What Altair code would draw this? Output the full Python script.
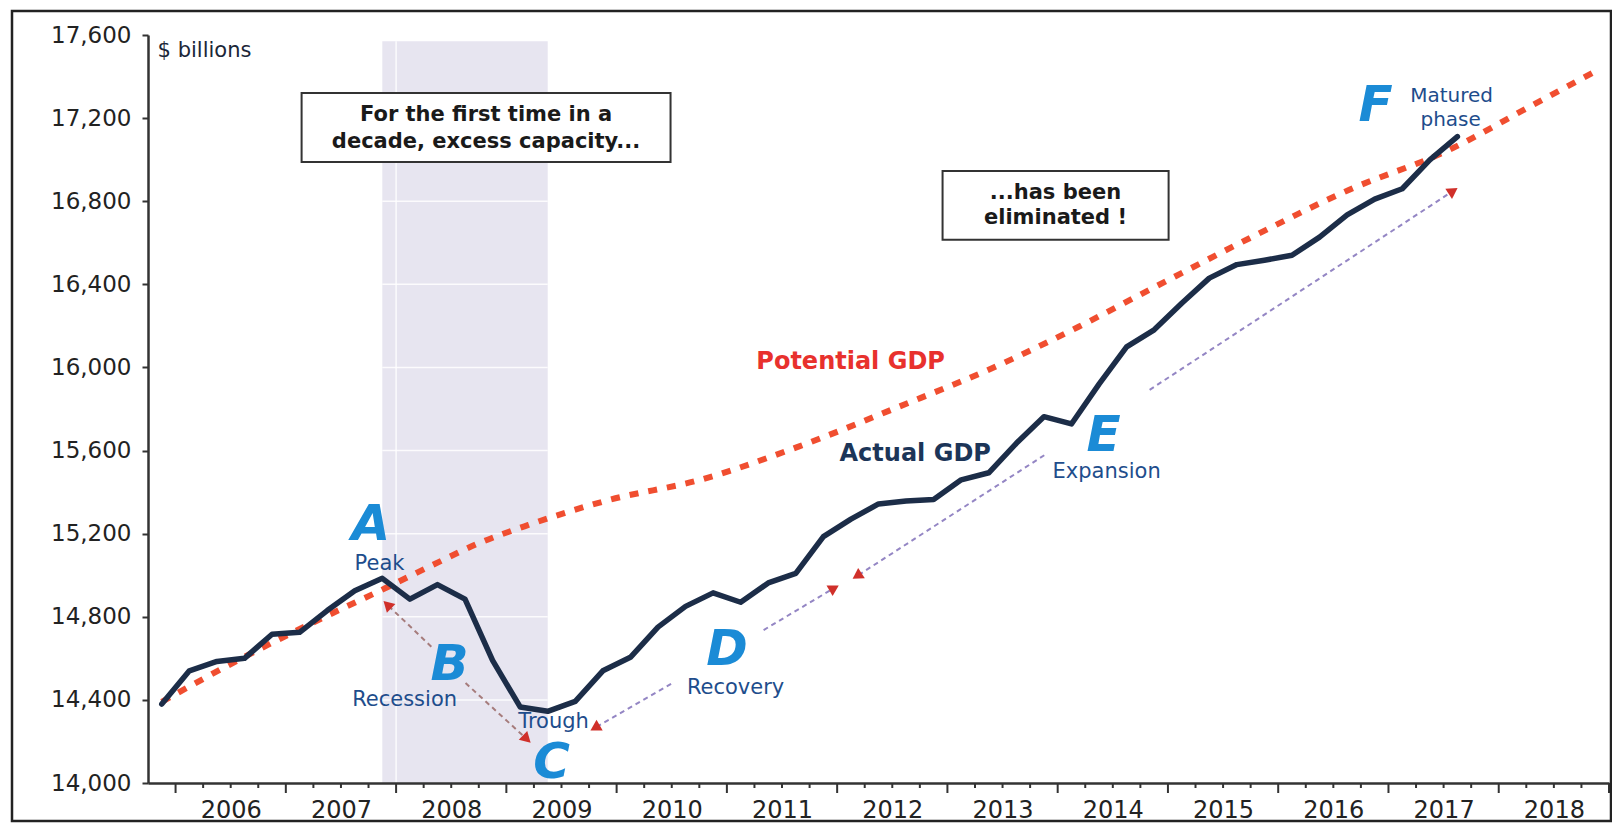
import altair as alt
import pandas as pd

FONT = "DejaVu Sans"

# ---------------- data ----------------
# Real GDP, $ billions, quarterly 2005Q4 ... 2017Q3
quarter_labels = [f"{y}Q{q}" for y in range(2005, 2018) for q in range(1, 5)][3:51]
actual_gdp = [14380, 14540, 14585, 14600, 14716, 14725, 14830, 14925, 14985, 14885,
              14955, 14885, 14590, 14366, 14345, 14393, 14540, 14605, 14750, 14850,
              14915, 14870, 14963, 15009, 15186, 15270, 15343, 15357, 15365, 15459,
              15493, 15635, 15763, 15728, 15920, 16099, 16181, 16309, 16430, 16495,
              16516, 16540, 16627, 16734, 16810, 16860, 16999, 17111]

# Potential GDP (decimal year, $ billions)
pot_year = [2005.875, 2006.57, 2007.39, 2007.90, 2008.30, 2008.75, 2009.20, 2009.93,
            2010.75, 2011.65, 2012.56, 2013.47, 2014.19, 2014.83, 2015.74, 2016.64,
            2017.55, 2018.28, 2018.90]
pot_gdp = [14391, 14592, 14809, 14937, 15041, 15154, 15242, 15362,
           15458, 15619, 15811, 16012, 16196, 16373, 16622, 16854,
           17047, 17255, 17432]

recession = [2007.875, 2009.375]
band_top = 17570

years = list(range(2006, 2020))
y_ticks = list(range(14000, 17601, 400))

# phase letters
letters = ["A", "B", "C", "D", "E", "F"]
letter_t = [2007.77, 2008.485, 2009.41, 2011.0, 2014.417, 2016.883]
letter_v = [15240, 14568, 14096, 14640, 15670, 17259]

# phase captions
captions = ["Peak", "Recession", "Trough", "Recovery", "Expansion"]
caption_t = [2007.85, 2008.077, 2009.428, 2011.079, 2014.444]
caption_v = [15052, 14400, 14294, 14457, 15497]
matured = ["Matured", "phase"]
matured_t = [2017.573, 2017.564]
matured_v = [17308, 17191]

series_labels = ["Potential GDP", "Actual GDP"]
series_label_t = [2012.122, 2012.708]
series_label_v = [16024, 15584]
series_label_col = ["#E8312D", "#1C3558"]

# arrows: dashed segments (t0, v0) -> (t1, v1)
seg_t0 = [2007.932, 2008.630, 2009.818, 2011.333, 2012.194, 2014.834]
seg_v0 = [14852, 14481, 14270, 14736, 15001, 15892]
seg_t1 = [2008.322, 2009.174, 2010.508, 2011.959, 2013.909, 2017.573]
seg_v1 = [14655, 14217, 14481, 14934, 15588, 16845]
seg_col = ["#A67C7C", "#A67C7C", "#9486C4", "#9486C4", "#9486C4", "#9486C4"]

head_t = [2007.932, 2009.174, 2009.818, 2011.959, 2012.194, 2017.573]
head_v = [14852, 14217, 14270, 14934, 15001, 16845]
head_angle = [314, 134, 240, 60, 237, 57]

# text boxes
box_t0 = [2007.143, 2012.956]
box_t1 = [2010.489, 2015.006]
box_v0 = [16989, 16614]
box_v1 = [17321, 16946]
box_lines = ["For the first time in a", "decade, excess capacity...",
             "...has been", "eliminated !"]
box_line_t = [2008.816, 2008.816, 2013.98, 2013.98]
box_line_v = [17215, 17085, 16840, 16720]

# ---------------- frames ----------------
act_df = pd.DataFrame({
    "q": quarter_labels,
    "t": [int(s[:4]) + (int(s[-1]) - 1) / 4 + 0.125 for s in quarter_labels],
    "v": actual_gdp,
})
pot_df = pd.DataFrame({"t": pot_year, "v": pot_gdp})
band_df = pd.DataFrame({"t0": [recession[0]], "t1": [recession[1]],
                        "v0": [y_ticks[0]], "v1": [band_top]})
hgrid_df = pd.DataFrame({"v": y_ticks[1:-1], "t0": recession[0], "t1": recession[1]})
vgrid_df = pd.DataFrame({"t": [2008], "v0": [y_ticks[0]], "v1": [band_top]})
major_df = pd.DataFrame({"t": years})
minor_df = pd.DataFrame({"t": [y + f for y in years[:-1] for f in (0.25, 0.5, 0.75)]})
letters_df = pd.DataFrame({"t": letter_t, "v": letter_v, "label": letters})
cap_df = pd.DataFrame({"t": caption_t, "v": caption_v, "label": captions})
mat_df = pd.DataFrame({"t": matured_t, "v": matured_v, "label": matured})
ser_df = pd.DataFrame({"t": series_label_t, "v": series_label_v,
                       "label": series_labels, "col": series_label_col})
seg_df = pd.DataFrame({"t0": seg_t0, "v0": seg_v0, "t1": seg_t1, "v1": seg_v1, "col": seg_col})
head_df = pd.DataFrame({"t": head_t, "v": head_v, "ang": head_angle})
box_df = pd.DataFrame({"t0": box_t0, "t1": box_t1, "v0": box_v0, "v1": box_v1})
boxtxt_df = pd.DataFrame({"t": box_line_t, "v": box_line_v, "label": box_lines})
units_df = pd.DataFrame({"t": [2005.837], "v": [17523], "label": ["$ billions"]})
frame_df = pd.DataFrame({"k": [0]})

# ---------------- chart ----------------
W, H = 1461, 748
xs = alt.Scale(domain=[2005.75, 2019.0], nice=False, zero=False)
ys = alt.Scale(domain=[14000, 17600], nice=False, zero=False)

x_axis = alt.Axis(values=[y + 0.5 for y in years[:-1]], labelExpr="floor(datum.value)",
                  ticks=False, tickSize=0, labelFont=FONT, labelFontSize=24,
                  labelColor="#222222", labelPadding=15, domainColor="#333333",
                  domainWidth=2.5, grid=False, title=None, labelOverlap=False,
                  labelFlush=False, labelBound=False, zindex=1)
y_axis = alt.Axis(values=y_ticks, format=",d", tickSize=6, tickWidth=2,
                  tickColor="#333333", labelFont=FONT, labelFontSize=23,
                  labelColor="#222222", labelPadding=11, domainColor="#333333",
                  domainWidth=2.5, grid=False, title=None, labelOverlap=False, zindex=1)

band = alt.Chart(band_df).mark_rect(color="#E7E5F0").encode(
    x=alt.X("t0:Q", scale=xs, axis=x_axis), x2="t1:Q",
    y=alt.Y("v0:Q", scale=ys, axis=y_axis), y2="v1:Q")

hgrid = alt.Chart(hgrid_df).mark_rule(color="white", strokeWidth=1.5, opacity=0.85).encode(
    x="t0:Q", x2="t1:Q", y="v:Q")
vgrid = alt.Chart(vgrid_df).mark_rule(color="white", strokeWidth=1.5, opacity=0.85).encode(
    x="t:Q", y="v0:Q", y2="v1:Q")

pot = alt.Chart(pot_df).mark_line(color="#F04E30", strokeWidth=6, strokeDash=[9, 10],
                                   interpolate="monotone").encode(x="t:Q", y="v:Q")
act = alt.Chart(act_df).mark_line(color="#1C2D48", strokeWidth=5.5, strokeJoin="round",
                                   strokeCap="round").encode(
    x="t:Q", y="v:Q", order="t:Q")

segs = alt.Chart(seg_df).mark_rule(strokeWidth=2, strokeDash=[5, 4]).encode(
    x="t0:Q", x2="t1:Q", y="v0:Q", y2="v1:Q", color=alt.Color("col:N", scale=None))
heads = alt.Chart(head_df).mark_point(shape="triangle", filled=True, size=150,
                                      color="#D0302A", opacity=1).encode(
    x="t:Q", y="v:Q", angle=alt.Angle("ang:Q", scale=None))

letters_l = alt.Chart(letters_df).mark_text(font=FONT, fontSize=50, fontWeight="bold",
                                            fontStyle="italic", color="#1B8BD6",
                                            baseline="middle", align="center").encode(
    x="t:Q", y="v:Q", text="label:N")
caps_l = alt.Chart(cap_df).mark_text(font=FONT, fontSize=21, color="#1E4D8C",
                                     baseline="middle", align="center").encode(
    x="t:Q", y="v:Q", text="label:N")
mat_l = alt.Chart(mat_df).mark_text(font=FONT, fontSize=20, color="#1E4D8C",
                                    baseline="middle", align="center").encode(
    x="t:Q", y="v:Q", text="label:N")
ser_l = alt.Chart(ser_df).mark_text(font=FONT, fontSize=24, fontWeight="bold",
                                    baseline="middle", align="center").encode(
    x="t:Q", y="v:Q", text="label:N", color=alt.Color("col:N", scale=None))

boxes = alt.Chart(box_df).mark_rect(fill="white", stroke="#333333", strokeWidth=2).encode(
    x="t0:Q", x2="t1:Q", y="v0:Q", y2="v1:Q")
box_txt = alt.Chart(boxtxt_df).mark_text(font=FONT, fontSize=21, fontWeight="bold",
                                         color="#1a1a1a", baseline="middle",
                                         align="center").encode(
    x="t:Q", y="v:Q", text="label:N")
units = alt.Chart(units_df).mark_text(font=FONT, fontSize=21, color="#1B2738",
                                      baseline="middle", align="left").encode(
    x="t:Q", y="v:Q", text="label:N")

major = alt.Chart(major_df).mark_rule(color="#333333", strokeWidth=2).encode(
    x="t:Q", y=alt.value(H), y2=alt.value(H + 10))
minor = alt.Chart(minor_df).mark_rule(color="#333333", strokeWidth=2).encode(
    x="t:Q", y=alt.value(H), y2=alt.value(H + 5))

frame = alt.Chart(frame_df).mark_rect(fillOpacity=0, stroke="#222222", strokeWidth=2.5).encode(
    x=alt.value(-136), x2=alt.value(W + 2), y=alt.value(-24), y2=alt.value(H + 38))

chart = alt.layer(
    band, hgrid, vgrid, pot, act, segs, heads, letters_l, caps_l, mat_l, ser_l,
    boxes, box_txt, units, major, minor, frame
).properties(
    width=W, height=H,
    padding={"left": 148, "top": 35, "right": 3, "bottom": 42},
    autosize=alt.AutoSizeParams(type="none"),
    background="white",
).configure_view(strokeWidth=0)

chart.save("out.html", embed_options={"renderer": "svg", "actions": False})
